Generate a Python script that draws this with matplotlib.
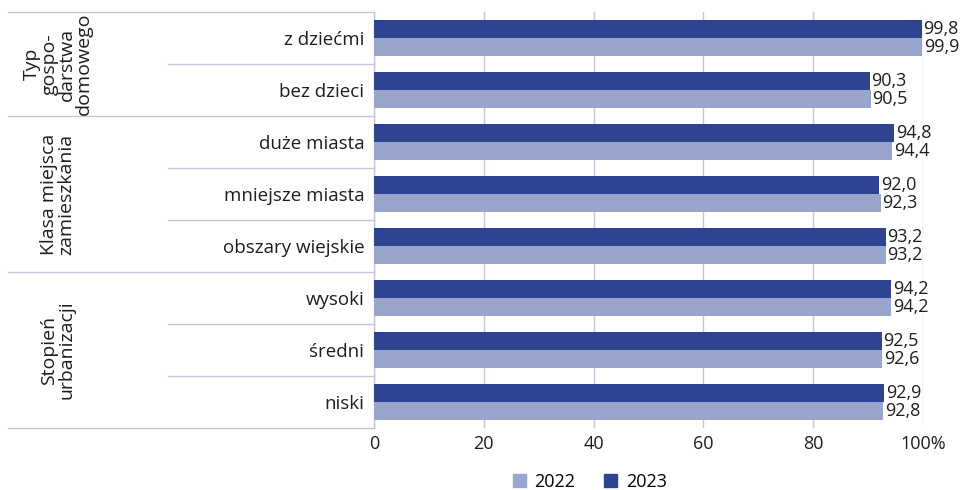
import matplotlib.pyplot as plt
from matplotlib.patches import Patch

plt.rcParams['font.family'] = ['Open Sans', 'DejaVu Sans']

categories = ["z dziećmi", "bez dzieci", "duże miasta", "mniejsze miasta",
              "obszary wiejskie", "wysoki", "średni", "niski"]
values_2023 = [99.8, 90.3, 94.8, 92.0, 93.2, 94.2, 92.5, 92.9]
values_2022 = [99.9, 90.5, 94.4, 92.3, 93.2, 94.2, 92.6, 92.8]
groups = ["Typ\ngospo-\ndarstwa\ndomowego", "Klasa miejsca\nzamieszkania",
          "Stopień\nurbanizacji"]
group_sizes = [2, 3, 3]
xticks = [0, 20, 40, 60, 80, 100]
xtick_labels = ["0", "20", "40", "60", "80", "100%"]

c2022 = "#9aa5ce"
c2023 = "#2d4591"
line_c = "#c4c6dc"
txt_c = "#1e1e1e"
fs = 13.5

fig = plt.figure(figsize=(9.65, 4.9), dpi=100)
ax = fig.add_axes([374 / 965, 1 - 428 / 490, 549 / 965, 416 / 490])

h = 0.35
ypos = list(range(len(categories)))
ax.barh([y - h / 2 for y in ypos], values_2023, height=h, color=c2023, zorder=3)
ax.barh([y + h / 2 for y in ypos], values_2022, height=h, color=c2022, zorder=3)

for y, v in zip(ypos, values_2023):
    ax.text(v + 0.3, y - h / 2, f"{v:.1f}".replace(".", ","), va="center",
            ha="left", fontsize=fs - 0.5, color=txt_c)
for y, v in zip(ypos, values_2022):
    ax.text(v + 0.3, y + h / 2, f"{v:.1f}".replace(".", ","), va="center",
            ha="left", fontsize=fs - 0.5, color=txt_c)

ax.set_xlim(0, 100)
ax.set_ylim(len(categories) - 0.5, -0.5)
ax.set_xticks(xticks)
ax.set_xticklabels(xtick_labels, fontsize=fs - 0.5, color=txt_c)
ax.set_yticks(ypos)
ax.set_yticklabels(categories, fontsize=fs, color=txt_c)
ax.tick_params(axis="both", length=0)
ax.tick_params(axis="x", pad=5)
ax.tick_params(axis="y", pad=7)
ax.grid(axis="x", color=line_c, linewidth=1, zorder=0)

for s in ["top", "right", "bottom"]:
    ax.spines[s].set_visible(False)
ax.spines["left"].set_color(line_c)
ax.spines["left"].set_linewidth(1)

# separators in the label column
tr = ax.get_yaxis_transform()
start = -0.5
x_outer = (8 - 374) / 549
x_inner = (168 - 374) / 549
ax.plot([x_outer, 0], [start, start], transform=tr, color=line_c, lw=1, clip_on=False)
for name, n in zip(groups, group_sizes):
    end = start + n
    ax.plot([x_outer, 0], [end, end], transform=tr, color=line_c, lw=1, clip_on=False)
    for k in range(1, n):
        yy = start + k
        ax.plot([x_inner, 0], [yy, yy], transform=tr, color=line_c, lw=1, clip_on=False)
    ax.text((58 - 374) / 549, (start + end) / 2, name, transform=tr, rotation=90,
            ha="center", va="center", multialignment="center", fontsize=fs + 0.5,
            color=txt_c, linespacing=0.95)
    start = end

handles = [Patch(color=c2022, label="2022"), Patch(color=c2023, label="2023")]
fig.legend(handles=handles, loc="lower center", bbox_to_anchor=(590 / 965, -0.035),
           ncol=2, frameon=False, fontsize=fs - 0.5, handlelength=0.7, handleheight=0.7,
           handletextpad=0.5, columnspacing=1.6)

fig.savefig("out.png", dpi=100)
